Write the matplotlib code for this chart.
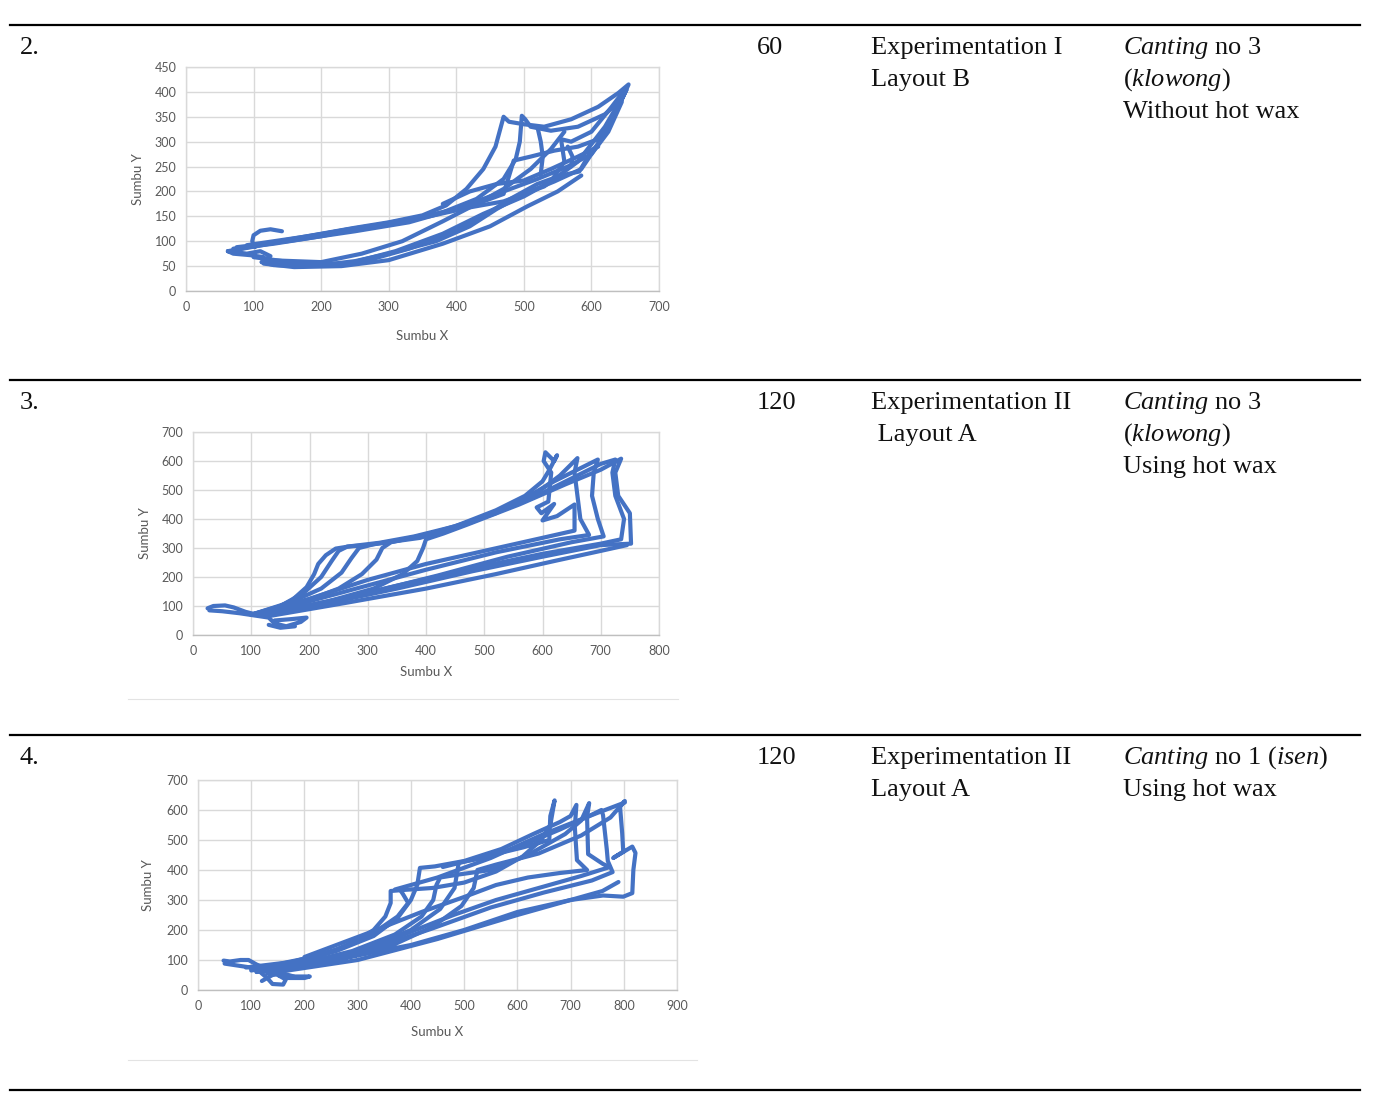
import matplotlib
matplotlib.use("Agg")
import matplotlib.pyplot as plt
from matplotlib.lines import Line2D

plt.rcParams['mathtext.fontset'] = 'custom'
plt.rcParams['mathtext.rm'] = 'Liberation Serif'
plt.rcParams['mathtext.it'] = 'Liberation Serif:italic'

W, H = 1394, 1109

# table text
row_no = ["2.", "3.", "4."]
row_time = ["60", "120", "120"]
row_exp = [["Experimentation I", "Layout B"],
           ["Experimentation II", " Layout A"],
           ["Experimentation II", "Layout A"]]
row_note = [[r"$\mathit{Canting}$ no 3", r"($\mathit{klowong}$)", "Without hot wax"],
            [r"$\mathit{Canting}$ no 3", r"($\mathit{klowong}$)", "Using hot wax"],
            [r"$\mathit{Canting}$ no 1 ($\mathit{isen}$)", "Using hot wax"]]

# chart 1 : pen path, x/y in Sumbu units
c1_strokes = [
    [(62, 80), (100, 90), (150, 103), (200, 115), (250, 127), (300, 138), (350, 152), (385, 172),
     (415, 205), (440, 245), (458, 290), (470, 350), (478, 340), (500, 335), (530, 330), (570, 345),
     (610, 370), (640, 398), (655, 415), (645, 385), (625, 330), (605, 285), (585, 245), (545, 220),
     (500, 195), (460, 165), (420, 130), (370, 100), (300, 75), (250, 60), (200, 52), (150, 52),
     (122, 56), (115, 68), (95, 72), (70, 75), (62, 80)],
    [(70, 85), (130, 95), (200, 110), (260, 127), (320, 140), (380, 158), (430, 185), (470, 225),
     (488, 265), (494, 300), (497, 352), (502, 345), (510, 330), (540, 322), (580, 330), (620, 355),
     (645, 385), (652, 405), (632, 350), (615, 305), (595, 270), (582, 240), (555, 232), (520, 215),
     (480, 185), (440, 150), (390, 115), (330, 85), (270, 62), (220, 52), (170, 50), (130, 52),
     (112, 58)],
    [(75, 88), (150, 100), (250, 120), (330, 138), (400, 165), (460, 195), (520, 225), (565, 250),
     (600, 275), (625, 320), (645, 380)],
    [(90, 92), (180, 110), (280, 132), (360, 152), (430, 175), (470, 195), (485, 262), (510, 270),
     (545, 282), (580, 290), (610, 305), (635, 360)],
    [(100, 68), (170, 55), (240, 55), (310, 80), (380, 115), (440, 155), (500, 190), (540, 220),
     (560, 260), (555, 305), (570, 300), (600, 320), (630, 370), (648, 402)],
    [(520, 330), (525, 300), (528, 270), (525, 235)],
    [(565, 290), (572, 270), (570, 250)],
    [(142, 120), (125, 124), (110, 121), (100, 112), (98, 100), (102, 88)],
    [(115, 55), (160, 48), (230, 50), (300, 62), (380, 95), (450, 130), (505, 170), (550, 200),
     (585, 232)],
    [(380, 175), (420, 200), (460, 215), (500, 222), (540, 245), (580, 270), (610, 290)],
    [(62, 80), (90, 75), (110, 80), (125, 70), (112, 58)],
    [(120, 62), (200, 58), (260, 75), (320, 100), (380, 140), (430, 175), (470, 205), (510, 245),
     (540, 285), (560, 320)],
    [(80, 84), (160, 104), (240, 124), (310, 138), (360, 150), (420, 168), (470, 180), (530, 210),
     (580, 260), (620, 330), (650, 400)],
]

# chart 2
c2_strokes = [
    [(25, 92), (35, 100), (55, 102), (70, 95), (90, 80), (110, 70)],
    [(28, 85), (50, 82), (80, 75), (130, 60), (140, 40), (160, 30), (185, 45), (195, 60), (170, 55),
     (140, 50)],
    [(130, 35), (150, 25), (175, 30)],
    [(100, 70), (140, 90), (170, 120), (195, 165), (208, 210), (215, 245), (228, 275), (245, 298),
     (270, 306), (320, 318), (380, 340), (450, 375), (520, 430), (570, 480), (600, 530), (612, 570),
     (625, 620), (620, 600), (605, 630), (602, 600), (615, 560), (612, 500), (610, 460), (590, 440),
     (598, 420), (620, 452), (600, 395), (625, 410), (655, 450), (655, 400), (655, 360), (600, 335),
     (500, 290), (400, 245), (300, 190), (200, 125), (100, 70)],
    [(100, 70), (150, 100), (190, 145), (220, 200), (238, 255), (250, 290), (265, 305), (300, 310),
     (350, 325), (430, 360), (520, 420), (590, 490), (630, 550), (650, 590), (660, 610), (655, 560),
     (660, 480), (665, 400), (680, 345), (630, 330), (520, 285), (400, 225), (280, 160), (170, 100),
     (100, 70)],
    [(100, 70), (170, 115), (220, 160), (255, 215), (272, 265), (285, 300), (310, 313), (390, 335),
     (480, 390), (560, 460), (620, 530), (670, 580), (695, 605), (688, 560), (685, 480), (695, 400),
     (705, 340), (650, 320), (540, 270), (420, 205), (300, 145), (180, 95)],
    [(110, 75), (190, 115), (250, 160), (290, 210), (315, 260), (325, 300), (340, 320), (400, 345),
     (490, 400), (580, 470), (650, 540), (700, 590), (725, 605), (720, 560), (725, 480), (740, 400),
     (735, 330), (700, 315), (600, 280), (480, 230), (350, 170), (200, 100)],
    [(120, 70), (230, 115), (310, 160), (360, 210), (385, 255), (395, 300), (400, 330), (430, 350),
     (470, 380), (560, 450), (640, 520), (700, 570), (735, 608), (725, 560), (730, 480), (750, 420),
     (752, 315), (700, 310), (600, 270), (480, 220), (350, 160), (220, 105), (120, 70)],
    [(130, 65), (260, 110), (400, 160), (520, 210), (620, 255), (700, 290), (745, 310)],
]

# chart 3
c3_strokes = [
    [(48, 98), (60, 95), (80, 100), (95, 100), (110, 85), (130, 70)],
    [(50, 88), (80, 80), (110, 72), (120, 55), (130, 40), (140, 20), (160, 18), (165, 35), (150, 50),
     (175, 45), (210, 45), (200, 40), (170, 40)],
    [(120, 30), (140, 50), (160, 55), (180, 45)],
    [(90, 75), (160, 90), (230, 115), (290, 155), (330, 200), (352, 245), (362, 290), (362, 330),
     (390, 334), (440, 340), (500, 358), (560, 395), (610, 445), (645, 500), (662, 550), (670, 632),
     (662, 580), (660, 500), (610, 475), (540, 445), (460, 410)],
    [(100, 70), (180, 95), (260, 135), (330, 190), (375, 245), (395, 290), (385, 320), (380, 333)],
    [(100, 65), (180, 90), (260, 130), (330, 180), (375, 240), (400, 300), (412, 350), (417, 407),
     (445, 412), (500, 430), (570, 470), (630, 520), (680, 560), (700, 580), (711, 617), (708, 543),
     (712, 433), (731, 400), (680, 390), (620, 375), (560, 350), (500, 310), (420, 260), (320, 190),
     (200, 110)],
    [(110, 60), (200, 90), (290, 130), (370, 185), (420, 245), (442, 300), (448, 350), (455, 375),
     (490, 385), (550, 400), (620, 450), (690, 520), (720, 565), (735, 623), (731, 577), (733, 453),
     (761, 420), (774, 410), (720, 380), (640, 340), (560, 300), (480, 250), (380, 180), (250, 100)],
    [(120, 60), (220, 95), (320, 140), (400, 200), (455, 270), (482, 340), (490, 425), (530, 438),
     (600, 475), (680, 535), (735, 580), (758, 600), (761, 583), (768, 470), (770, 430), (779, 393),
     (740, 365), (650, 325), (550, 275), (440, 205), (300, 120)],
    [(130, 55), (250, 95), (360, 145), (440, 210), (495, 280), (518, 340), (525, 400), (560, 418),
     (640, 455), (720, 515), (775, 575), (802, 630), (793, 611), (797, 523), (799, 461), (780, 440),
     (816, 478), (822, 457), (818, 400), (816, 323), (799, 311), (761, 315), (700, 300), (600, 260),
     (500, 200), (400, 150), (300, 115), (200, 80), (110, 60)],
    [(370, 335), (450, 375), (550, 440), (650, 520), (750, 590), (802, 625)],
    [(150, 60), (300, 100), (450, 170), (600, 250), (700, 300), (760, 330), (790, 360)],
]

charts = [
    dict(strokes=c1_strokes, xmax=700, ymax=450, xstep=100, ystep=50,
         box=(186, 67, 659, 291), xlab_y=336, ylab_x=138, frame=None),
    dict(strokes=c2_strokes, xmax=800, ymax=700, xstep=100, ystep=100,
         box=(193, 432, 659, 635), xlab_y=672, ylab_x=145, frame=(128, 678, 699)),
    dict(strokes=c3_strokes, xmax=900, ymax=700, xstep=100, ystep=100,
         box=(198, 780, 677, 990), xlab_y=1032, ylab_x=148, frame=(128, 697, 1060)),
]

fig = plt.figure(figsize=(W / 100, H / 100), dpi=100)


def fx(px):
    return px / W


def fy(py):
    return 1 - py / H


blue = '#4472C4'
grid_c = '#d9d9d9'
tick_c = '#595959'

for ch in charts:
    x0, y0, x1, y1 = ch['box']
    ax = fig.add_axes([fx(x0), fy(y1), fx(x1 - x0), (y1 - y0) / H])
    for s in ch['strokes']:
        xs = [p[0] for p in s]
        ys = [p[1] for p in s]
        ax.plot(xs, ys, color=blue, lw=3.0, solid_joinstyle='round', solid_capstyle='round')
    ax.set_xlim(0, ch['xmax'])
    ax.set_ylim(0, ch['ymax'])
    ax.set_xticks(range(0, ch['xmax'] + 1, ch['xstep']))
    ax.set_yticks(range(0, ch['ymax'] + 1, ch['ystep']))
    ax.grid(True, color=grid_c, lw=1.0)
    ax.set_axisbelow(True)
    ax.tick_params(length=0, labelsize=9, colors=tick_c, pad=7)
    for lab in ax.get_xticklabels() + ax.get_yticklabels():
        lab.set_fontfamily('Lato')
    for sp in ax.spines.values():
        sp.set_color(grid_c)
        sp.set_linewidth(1.0)
    ax.spines['bottom'].set_color('#bfbfbf')
    fig.text(fx((x0 + x1) / 2), fy(ch['xlab_y']), "Sumbu X", ha='center', va='center',
             fontsize=9.5, color=tick_c, family='Lato')
    fig.text(fx(ch['ylab_x']), fy((y0 + y1) / 2), "Sumbu Y", ha='center', va='center',
             rotation=90, fontsize=9.5, color=tick_c, family='Lato')
    if ch['frame']:
        fa, fb, fyy = ch['frame']
        fig.add_artist(Line2D([fx(fa), fx(fb)], [fy(fyy), fy(fyy)], transform=fig.transFigure,
                              color='#e3e3e3', lw=0.8))

# table rules
rules = [25, 380, 735, 1090]
for r in rules:
    fig.add_artist(Line2D([fx(10), fx(1360)], [fy(r), fy(r)], transform=fig.transFigure,
                          color='black', lw=1.6))

serif = dict(family='Liberation Serif', fontsize=19, color='#111111', va='baseline', ha='left')
for i in range(3):
    top = rules[i]
    fig.text(fx(20), fy(top + 29), row_no[i], **serif)
    fig.text(fx(757), fy(top + 29), row_time[i], **serif)
    for j, t in enumerate(row_exp[i]):
        fig.text(fx(871), fy(top + 29 + 32 * j), t, **serif)
    for j, t in enumerate(row_note[i]):
        fig.text(fx(1123), fy(top + 29 + 32 * j), t, **serif)

fig.savefig("out.png", dpi=100, facecolor='white')
